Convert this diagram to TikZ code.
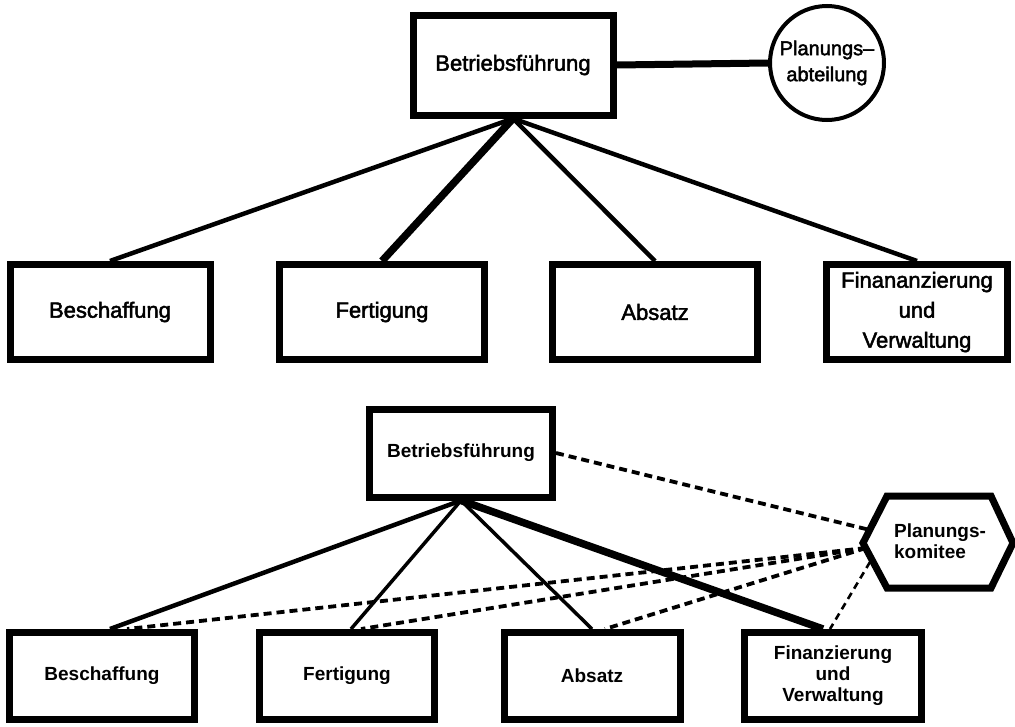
\documentclass[tikz,border=0pt]{standalone}
\usepackage{fontspec}
\setmainfont{Liberation Sans}
\newfontfamily\heavyfont{Liberation Sans}[FakeBold=2.2]
\usetikzlibrary{calc}
\tikzset{
  box/.style={draw, line width=7pt, align=center, inner sep=0pt},
  lbl1/.style={font=\heavyfont\fontsize{22}{30}\selectfont},
  lbl2/.style={font=\bfseries\fontsize{19}{21}\selectfont},
  conn/.style={line width=4.5pt},
  connthick/.style={line width=7.5pt},
  connthin/.style={line width=3.5pt},
  dashline/.style={line width=3.8pt, dash pattern=on 8pt off 5pt},
  dashthin/.style={line width=2.6pt, dash pattern=on 7pt off 5pt},
}
\begin{document}
\begin{tikzpicture}[x=1pt,y=-1pt]
\useasboundingbox (0,0) rectangle (1015,726);
% ---------- upper diagram ----------
\node[box, lbl1, minimum width=200pt, minimum height=100pt] (bf1) at (513,65) {Betriebsführung};
\node[draw, circle, line width=4pt, minimum size=114pt, inner sep=0pt, align=center,
      font=\heavyfont\fontsize{20}{26}\selectfont] (plan) at (827,63) {Planungs–\\abteilung};
\node[box, lbl1, minimum width=200pt, minimum height=95pt] (b1) at (110,312) {Beschaffung};
\node[box, lbl1, minimum width=205pt, minimum height=95pt] (f1) at (382,312) {Fertigung};
\node[box, lbl1, minimum width=205pt, minimum height=95pt] (a1) at (655,312) {Absatz};
\node[box, lbl1, minimum width=181pt, minimum height=95pt] (fi1) at (917,312) {Finananzierung\\und\\Verwaltung};
\draw[line width=7pt] (bf1.east) -- (plan.west);
\draw[conn] (bf1.south) -- (b1.north);
\draw[connthick] (bf1.south) -- (f1.north);
\draw[conn] (bf1.south) -- (a1.north);
\draw[conn] (bf1.south) -- (fi1.north);
% ---------- lower diagram ----------
\node[box, lbl2, minimum width=183pt, minimum height=88pt] (bf2) at (461,453) {Betriebsführung};
\node[lbl2, align=left, inner sep=0pt] (kom) at (940,541) {Planungs-\\komitee};
\draw[line width=7pt, line join=miter]
  ($(kom)+(-53,-45)$) coordinate (h1) -- ($(kom)+(51,-45)$) coordinate (h2)
  -- ($(kom)+(73,2)$) coordinate (h3) -- ($(kom)+(51,47)$) coordinate (h4)
  -- ($(kom)+(-53,47)$) coordinate (h5) -- ($(kom)+(-77,2)$) coordinate (h6) -- cycle;
\coordinate (kA) at ($(kom)+(-70,-11)$);
\coordinate (kB) at ($(kom)+(-74,7)$);
\coordinate (kC) at ($(kom)+(-70,21)$);
\node[box, lbl2, minimum width=185pt, minimum height=87pt] (b2) at (102,676) {Beschaffung};
\node[box, lbl2, minimum width=175pt, minimum height=87pt] (f2) at (347,676) {Fertigung};
\node[box, lbl2, minimum width=176pt, minimum height=87pt] (a2) at (592,676) {Absatz};
\node[box, lbl2, minimum width=177pt, minimum height=87pt] (fi2) at (833,676) {Finanzierung\\und\\Verwaltung};
\draw[conn] (bf2.south) -- ([xshift=8pt]b2.north);
\draw[connthin] (bf2.south) -- ([xshift=4pt]f2.north);
\draw[connthin] (bf2.south) -- (a2.north);
\draw[connthick] (bf2.south) -- ([xshift=-10pt]fi2.north);
\draw[dashline] (bf2.east) -- (kA);
\draw[dashline] (kB) -- ([xshift=25pt]b2.north);
\draw[dashline] (kB) -- ([xshift=14pt]f2.north);
\draw[dashline] (kB) -- ([xshift=13pt]a2.north);
\draw[dashthin] (kC) -- ([xshift=-3pt]fi2.north);
\end{tikzpicture}
\end{document}
